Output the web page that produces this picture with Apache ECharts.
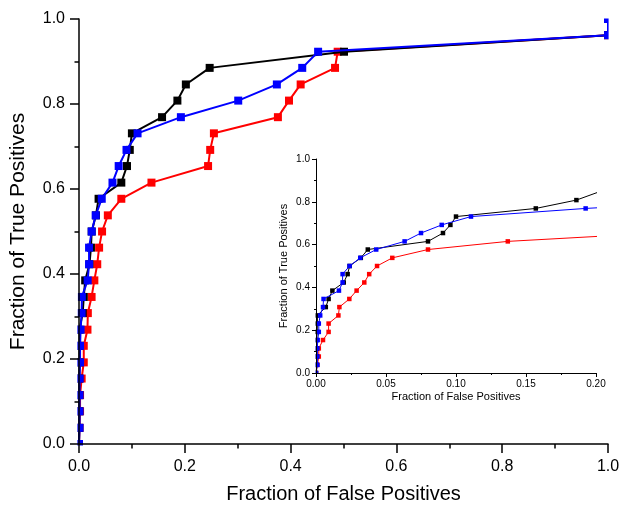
<!DOCTYPE html>
<html>
<head>
<meta charset="utf-8">
<script src="https://cdn.jsdelivr.net/npm/echarts@6/dist/echarts.min.js"></script>
<style>
html,body{margin:0;padding:0;background:#fff;}
#chart{width:624px;height:509px;}
</style>
</head>
<body>
<div id="chart"></div>
<script>
// True-positive fractions (shared by all three curves)
var tpValues = [0, 0.038, 0.077, 0.115, 0.154, 0.192, 0.231, 0.269, 0.308, 0.346, 0.385, 0.423, 0.462, 0.5, 0.538, 0.577, 0.615, 0.654, 0.692, 0.731, 0.769, 0.808, 0.846, 0.885, 0.923, 0.962, 1.0];
// False-positive fractions for each curve
var blackFP = [0, 0.0005, 0.0005, 0.0005, 0.0005, 0.0008, 0.001, 0.001, 0.007, 0.009, 0.0117, 0.0198, 0.0226, 0.024, 0.032, 0.037, 0.080, 0.0907, 0.096, 0.100, 0.157, 0.186, 0.202, 0.247, 0.501, 1.0, 1.0];
var redFP   = [0, 0.001, 0.002, 0.002, 0.005, 0.009, 0.009, 0.016, 0.0167, 0.0238, 0.029, 0.0345, 0.038, 0.0436, 0.0545, 0.080, 0.137, 0.244, 0.248, 0.255, 0.376, 0.397, 0.419, 0.484, 0.489, 1.0, 1.0];
var blueFP  = [0, 0.001, 0.001, 0.001, 0.0012, 0.002, 0.002, 0.003, 0.005, 0.0054, 0.0164, 0.019, 0.019, 0.024, 0.0316, 0.043, 0.0633, 0.075, 0.0898, 0.1107, 0.1926, 0.301, 0.374, 0.422, 0.452, 1.0, 1.0];
var mainTicks = ['0.0', '0.2', '0.4', '0.6', '0.8', '1.0'];
var insetXTicks = ['0.00', '0.05', '0.10', '0.15', '0.20'];

var colors = { black: '#000000', red: '#ff0000', blue: '#0000ff' };
function pairs(xs, ys) { return xs.map(function (x, i) { return [x, ys[i]]; }); }

var FONT = 'Liberation Sans, Arial, sans-serif';

function axis(opts) {
  return {
    type: 'value',
    z: 5,
    splitLine: { show: false },
    axisLine: { show: true, onZero: false, lineStyle: { color: '#000', width: opts.lw } },
    axisTick: { show: true, inside: false, length: opts.tick, lineStyle: { color: '#000', width: opts.lw } },
    minorTick: { show: true, splitNumber: 2, length: opts.tick / 2, lineStyle: { color: '#000', width: opts.lw } },
    axisLabel: { color: '#000', fontSize: opts.fs, fontFamily: FONT, margin: opts.margin, formatter: opts.fmt },
    name: opts.name,
    nameLocation: 'middle',
    nameGap: opts.gap,
    nameTextStyle: { color: '#000', fontSize: opts.nfs, fontFamily: FONT },
    min: opts.min, max: opts.max, interval: opts.interval,
    gridIndex: opts.grid
  };
}

var chart = echarts.init(document.getElementById('chart'), null, { renderer: 'canvas' });

function mkSeries(name, fp, color, xi, size, lw, z) {
  return {
    type: 'line', name: name, data: pairs(fp, tpValues),
    xAxisIndex: xi, yAxisIndex: xi,
    symbol: 'rect', symbolSize: size, showSymbol: true,
    lineStyle: { color: color, width: lw },
    itemStyle: { color: color },
    clip: true, z: z, animation: false
  };
}

// white masks so markers are clipped at the plot frame, like the reference
function mask(x, y, w, h) {
  return { type: 'rect', z: 4, silent: true, shape: { x: x, y: y, width: w, height: h }, style: { fill: '#ffffff' } };
}

var option = {
  animation: false,
  backgroundColor: '#ffffff',
  grid: [
    { left: 78, right: 16, top: 19, bottom: 64, containLabel: false },
    { left: 316, top: 159, width: 280, height: 214, containLabel: false }
  ],
  graphic: { elements: [
    mask(0, 0, 77.4, 509),
    mask(0, 0, 624, 18.4),
    mask(608.6, 0, 16, 509),
    mask(0, 445.6, 624, 64),
    mask(300, 150, 15.5, 230),
    mask(300, 373.5, 300, 8)
  ] },
  xAxis: [
    axis({ grid: 0, min: 0, max: 1, interval: 0.2, lw: 1.5, tick: 9, fs: 16, margin: 15, nfs: 20, gap: 40,
           name: 'Fraction of False Positives', fmt: function (v) { return mainTicks[Math.round(v / 0.2)]; } }),
    axis({ grid: 1, min: 0, max: 0.2, interval: 0.05, lw: 1, tick: 4, fs: 10, margin: 6, nfs: 11, gap: 18,
           name: 'Fraction of False Positives', fmt: function (v) { return insetXTicks[Math.round(v / 0.05)]; } })
  ],
  yAxis: [
    axis({ grid: 0, min: 0, max: 1, interval: 0.2, lw: 1.5, tick: 9, fs: 16, margin: 14, nfs: 21, gap: 50,
           name: 'Fraction of True Positives', fmt: function (v) { return mainTicks[Math.round(v / 0.2)]; } }),
    axis({ grid: 1, min: 0, max: 1, interval: 0.2, lw: 1, tick: 4, fs: 10, margin: 6, nfs: 11, gap: 27,
           name: 'Fraction of True Positives', fmt: function (v) { return mainTicks[Math.round(v / 0.2)]; } })
  ],
  series: [
    mkSeries('red', redFP, colors.red, 0, 8, 2, 2),
    mkSeries('black', blackFP, colors.black, 0, 8, 2, 3),
    mkSeries('blue', blueFP, colors.blue, 0, 8, 2, 3.5),
    mkSeries('red-inset', redFP, colors.red, 1, 4.5, 1, 2),
    mkSeries('black-inset', blackFP, colors.black, 1, 4.5, 1, 3),
    mkSeries('blue-inset', blueFP, colors.blue, 1, 4.5, 1, 3.5)
  ]
};
chart.setOption(option);
</script>
</body>
</html>
